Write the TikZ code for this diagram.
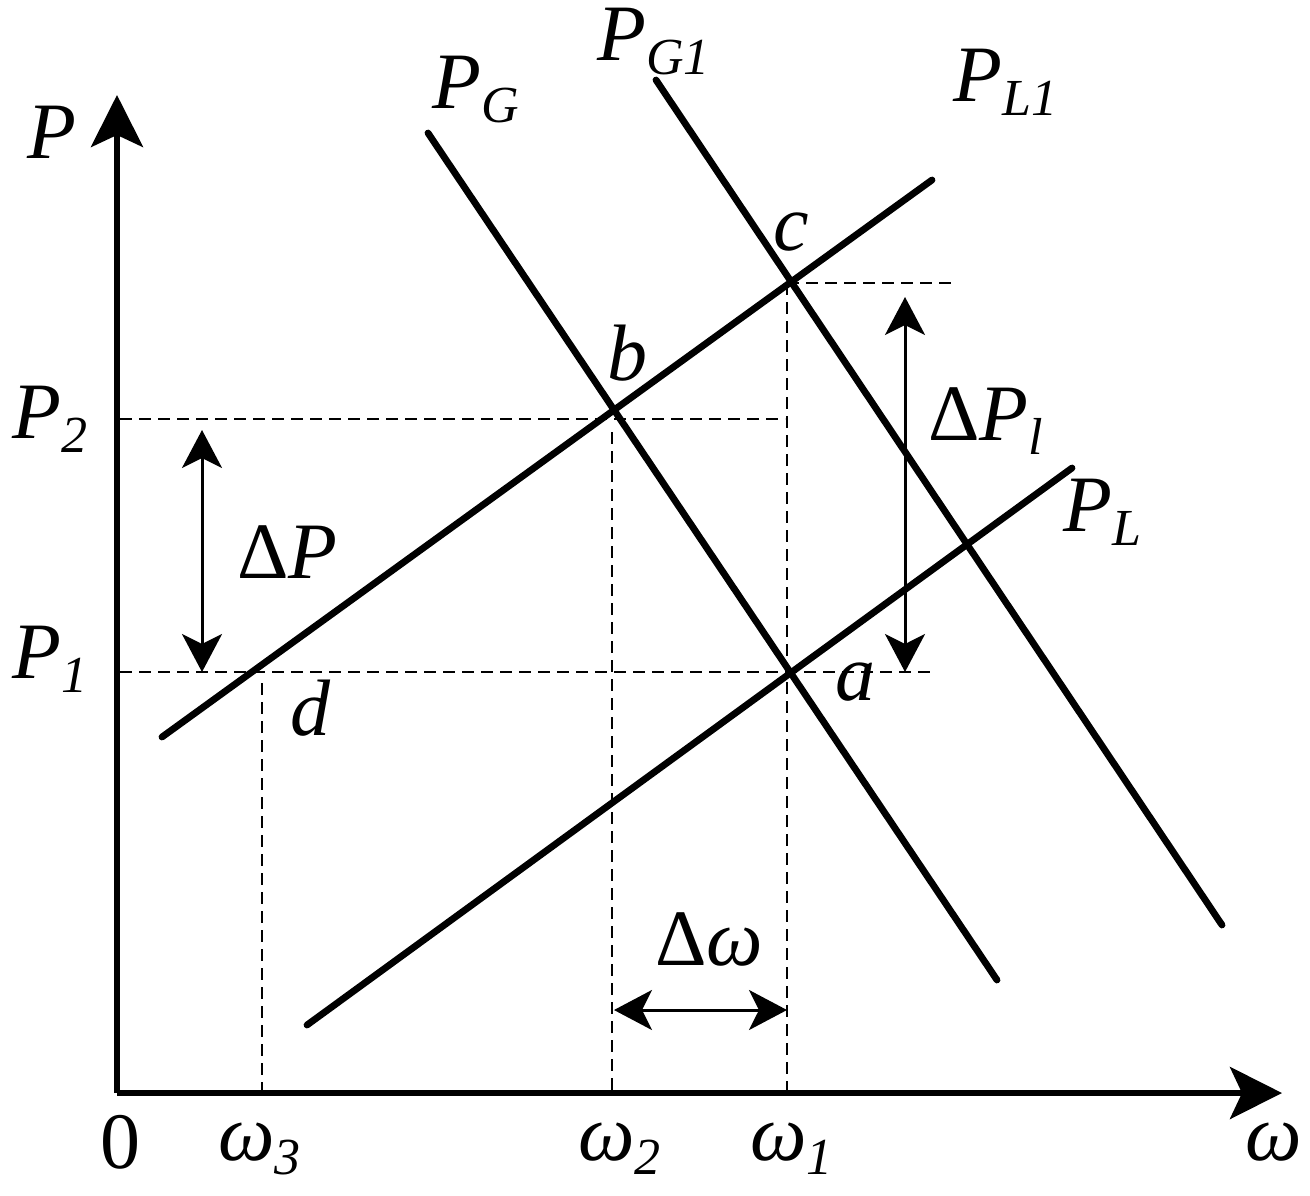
\documentclass[tikz,border=0pt]{standalone}
\usepackage{fontspec}
\setmainfont{Liberation Serif}
\usetikzlibrary{arrows.meta}
\newcommand{\bigf}{\fontsize{40}{41}\selectfont}
\newcommand{\subf}{\fontsize{26}{27}\selectfont}
\newcommand{\sbs}[1]{\raisebox{-7pt}{\subf\textit{#1}}}
\tikzset{
  axis/.style={line width=3pt, -{Stealth[length=26pt,width=26pt,inset=6pt]}},
  curve/.style={line width=3.4pt, line cap=round},
  guide/.style={line width=0.8pt, dash pattern=on 6pt off 3.5pt},
  dim/.style={line width=1.5pt, {Stealth[length=19pt,width=20pt,inset=5pt]}-{Stealth[length=19pt,width=20pt,inset=5pt]}},
  lbl/.style={inner sep=0pt, anchor=base west, font=\bigf}
}
\begin{document}
\begin{tikzpicture}[x=0.5pt,y=-0.5pt]
\useasboundingbox (0,0) rectangle (1310,1195);
% key points
\coordinate (O) at (117,1093);
\coordinate (ya) at (117,95);
\coordinate (xa) at (1282,1093);
\coordinate (a) at (789,672);
\coordinate (b) at (612,410);
\coordinate (c) at (789,280);
% curves
\coordinate (pg0) at (428,133);   \coordinate (pg1) at (997,980);
\coordinate (pgg0) at (656,80);   \coordinate (pgg1) at (1222,925);
\coordinate (pl10) at (162,737);  \coordinate (pl11) at (932,180);
\coordinate (pl0) at (307,1025);  \coordinate (pl1) at (1072,468);
% guide ends
\coordinate (h1a) at (787,283);  \coordinate (h1b) at (955,283);
\coordinate (h2a) at (120,419);  \coordinate (h2b) at (785,419);
\coordinate (h3a) at (120,672);  \coordinate (h3b) at (935,672);
\coordinate (v1a) at (787,283);  \coordinate (v1b) at (787,1093);
\coordinate (v2a) at (612,432);  \coordinate (v2b) at (612,1093);
\coordinate (v3a) at (262,683);  \coordinate (v3b) at (262,1093);
% dims
\coordinate (dp0) at (202,430);  \coordinate (dp1) at (202,672);
\coordinate (dl0) at (905,297);  \coordinate (dl1) at (905,672);
\coordinate (dw0) at (614,1010); \coordinate (dw1) at (787,1010);

\draw[guide] (h1a) -- (h1b);
\draw[guide] (h2a) -- (h2b);
\draw[guide] (h3a) -- (h3b);
\draw[guide] (v1a) -- (v1b);
\draw[guide] (v2a) -- (v2b);
\draw[guide] (v3a) -- (v3b);

\draw[curve] (pg0) -- (pg1);
\draw[curve] (pgg0) -- (pgg1);
\draw[curve] (pl10) -- (pl11);
\draw[curve] (pl0) -- (pl1);

\draw[axis] (O) -- (ya);
\draw[axis] (O) -- (xa);

\draw[dim] (dp0) -- (dp1);
\draw[dim] (dl0) -- (dl1);
\draw[dim] (dw0) -- (dw1);

% labels
\node[lbl] (lP) at (27,158) {\textit{P}};
\node[lbl] (lPG) at (432,108) {\textit{P}\sbs{G}};
\node[lbl] (lPG1) at (597,60) {\textit{P}\sbs{G1}};
\node[lbl] (lPL1) at (953,101) {\textit{P}\sbs{L1}};
\node[lbl] (lPL) at (1063,531) {\textit{P}\sbs{L}};
\node[lbl] (lP2) at (12,438) {\textit{P}\sbs{2}};
\node[lbl] (lP1) at (12,678) {\textit{P}\sbs{1}};
\node[lbl] (ldP) at (237,578) {Δ\textit{P}};
\node[lbl] (ldPl) at (928,440) {Δ\textit{P}\sbs{l}};
\node[lbl] (ldw) at (655,965) {Δ\textit{ω}};
\node[lbl] (la) at (835,700) {\textit{a}};
\node[lbl] (lb) at (607,380) {\textit{b}};
\node[lbl] (lc) at (773,250) {\textit{c}};
\node[lbl] (ld) at (290,735) {\textit{d}};
\node[lbl] (l0) at (100,1168) {0};
\node[lbl] (lw3) at (218,1160) {\textit{ω}\sbs{3}};
\node[lbl] (lw2) at (578,1160) {\textit{ω}\sbs{2}};
\node[lbl] (lw1) at (750,1160) {\textit{ω}\sbs{1}};
\node[lbl] (lw) at (1245,1160) {\textit{ω}};
\end{tikzpicture}
\end{document}
